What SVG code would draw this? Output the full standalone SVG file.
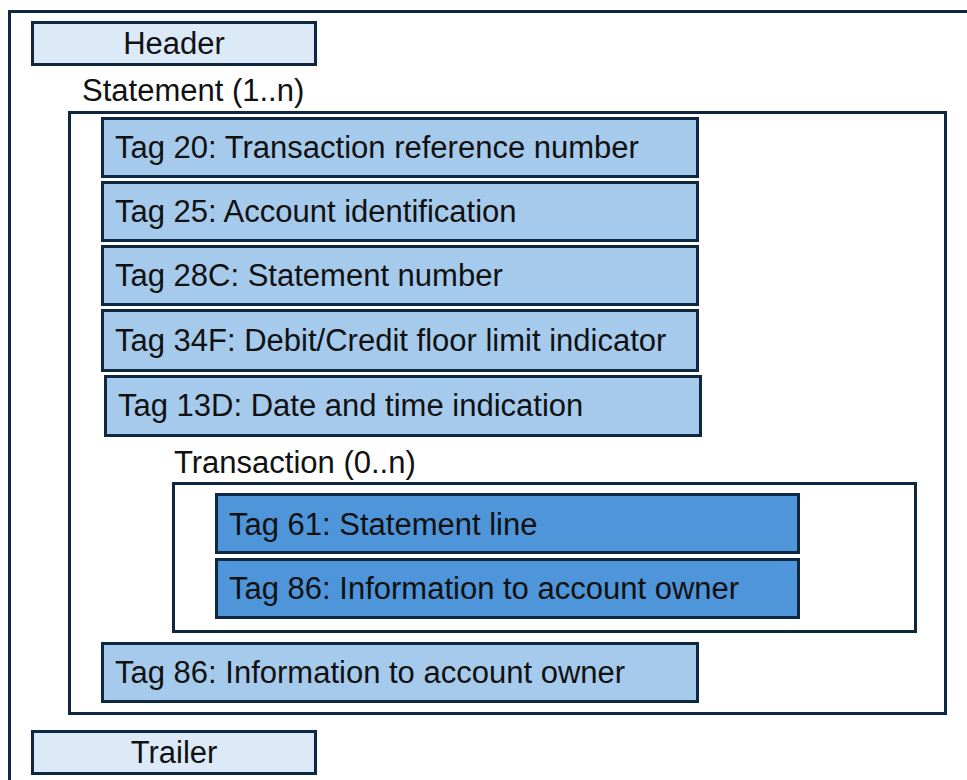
<svg xmlns="http://www.w3.org/2000/svg" width="967" height="780" viewBox="0 0 967 780">
<style>
  .frame { fill: #ffffff; stroke: #0e2841; stroke-width: 3; }
  .light { fill: #dceaf7; stroke: #0e2841; stroke-width: 3; }
  .mid { fill: #a6caec; stroke: #0e2841; stroke-width: 3; }
  .dark { fill: #4e95d9; stroke: #0e2841; stroke-width: 3; }
  text { font-family: "Liberation Sans", Arial, sans-serif; font-size: 31px; fill: #111111; }
  .c { text-anchor: middle; }
</style>
<rect width="967" height="780" fill="#ffffff"/>
<g id="message">
  <path d="M9.5,790 V11.5 H975" fill="none" stroke="#0e2841" stroke-width="3"/>
</g>
<g id="header">
  <rect class="light" x="32.5" y="22.5" width="283" height="42"/>
  <text class="c" x="174" y="54">Header</text>
</g>
<g id="statement">
  <text x="82" y="101">Statement (1..n)</text>
  <rect class="frame" x="69.5" y="112.5" width="876" height="601"/>
</g>
<g id="tag20">
  <rect class="mid" x="102.5" y="118.5" width="595" height="58"/>
  <text x="115" y="158">Tag 20: Transaction reference number</text>
</g>
<g id="tag25">
  <rect class="mid" x="102.5" y="182.5" width="595" height="58"/>
  <text x="115" y="222">Tag 25: Account identification</text>
</g>
<g id="tag28c">
  <rect class="mid" x="102.5" y="246.5" width="595" height="58"/>
  <text x="115" y="286">Tag 28C: Statement number</text>
</g>
<g id="tag34f">
  <rect class="mid" x="102.5" y="310.5" width="595" height="60"/>
  <text x="115" y="350.5">Tag 34F: Debit/Credit floor limit indicator</text>
</g>
<g id="tag13d">
  <rect class="mid" x="105.5" y="376.5" width="595" height="59"/>
  <text x="118" y="415.5">Tag 13D: Date and time indication</text>
</g>
<g id="transaction">
  <text x="174" y="472.5">Transaction (0..n)</text>
  <rect class="frame" x="173.5" y="483.5" width="742" height="148"/>
</g>
<g id="tag61">
  <rect class="dark" x="216.5" y="494.5" width="582" height="58"/>
  <text x="229" y="534.5">Tag 61: Statement line</text>
</g>
<g id="tag86-transaction">
  <rect class="dark" x="216.5" y="559.5" width="582" height="58"/>
  <text x="229" y="599">Tag 86: Information to account owner</text>
</g>
<g id="tag86-statement">
  <rect class="mid" x="102.5" y="643.5" width="595" height="58"/>
  <text x="115" y="683">Tag 86: Information to account owner</text>
</g>
<g id="trailer">
  <rect class="light" x="32.5" y="731.5" width="283" height="42"/>
  <text class="c" x="174" y="763">Trailer</text>
</g>
</svg>
